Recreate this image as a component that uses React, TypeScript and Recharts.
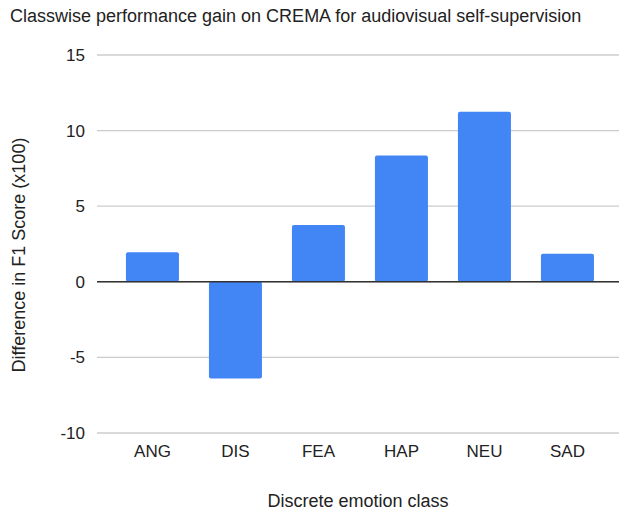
import { BarChart, Bar, XAxis, YAxis, CartesianGrid, ReferenceLine } from "recharts"

const classes = ["ANG", "DIS", "FEA", "HAP", "NEU", "SAD"]
const gains = [1.95, -6.4, 3.75, 8.35, 11.25, 1.85]
const yTicks = [-10, -5, 0, 5, 10, 15]

const data = classes.map((c, i) => ({ name: c, value: gains[i] }))

const font = "'Liberation Sans', Arial, sans-serif"

export default function App() {
    return (
        <div style={{ position: "absolute", left: 0, top: 0, width: 619, height: 515, fontFamily: font, background: "#fff" }}>
            <div style={{ position: "absolute", left: 10, top: 6, fontSize: 18, color: "#222", whiteSpace: "nowrap" }}>
                Classwise performance gain on CREMA for audiovisual self-supervision
            </div>
            <div
                style={{
                    position: "absolute",
                    left: 19,
                    top: 255,
                    transform: "translate(-50%, -50%) rotate(-90deg)",
                    fontSize: 18,
                    color: "#222",
                    whiteSpace: "nowrap",
                }}
            >
                Difference in F1 Score (x100)
            </div>
            <div style={{ position: "absolute", left: 358, top: 501, transform: "translate(-50%, -50%)", fontSize: 18, color: "#222", whiteSpace: "nowrap" }}>
                Discrete emotion class
            </div>
            <BarChart
                width={619}
                height={515}
                data={data}
                margin={{ top: 55, right: 0, bottom: 0, left: 0 }}
                barCategoryGap="18%"
            >
                <CartesianGrid horizontal vertical={false} stroke="#cccccc" strokeWidth={1.3} />
                <XAxis
                    dataKey="name"
                    height={82}
                    axisLine={false}
                    tickLine={false}
                    tickMargin={6}
                    padding={{ left: 14, right: 10 }}
                    tick={{ fill: "#222", fontSize: 17, fontFamily: font }}
                />
                <YAxis
                    width={97}
                    domain={[-10, 15]}
                    ticks={yTicks}
                    axisLine={false}
                    tickLine={false}
                    tickMargin={6}
                    tick={{ fill: "#222", fontSize: 17, fontFamily: font }}
                />
                <Bar dataKey="value" fill="#4285F4" radius={2} isAnimationActive={false} />
                <ReferenceLine y={0} stroke="#333" strokeWidth={1.5} />
            </BarChart>
        </div>
    )
}
